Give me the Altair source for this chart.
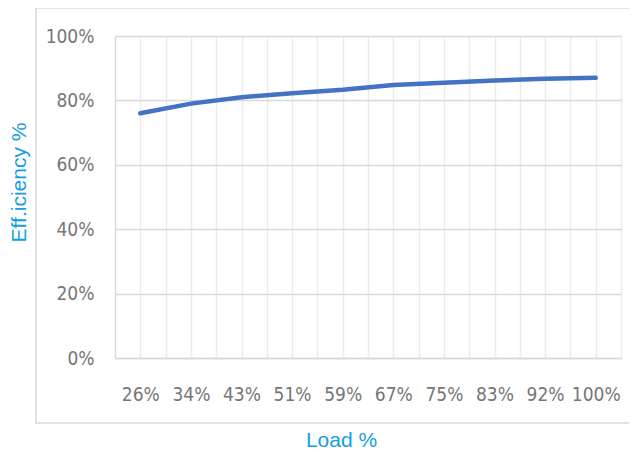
import altair as alt
import pandas as pd

categories = ["26%", "34%", "43%", "51%", "59%", "67%", "75%", "83%", "92%", "100%"]
efficiency = [0.76, 0.79, 0.81, 0.822, 0.833, 0.848, 0.855, 0.862, 0.867, 0.870]
y_ticks = [0, 0.2, 0.4, 0.6, 0.8, 1.0]

df = pd.DataFrame({
    "pos": [i + 0.5 for i in range(len(categories))],
    "load": categories,
    "eff": efficiency,
})

js_arr = "[" + ",".join("'" + c + "'" for c in categories) + "]"
label_expr = f"(datum.value % 1 == 0.5) ? {js_arr}[floor(datum.value)] : ''"

FONT = "DejaVu Sans Condensed, sans-serif"
TITLE_FONT = "Liberation Sans, Arial, sans-serif"
BLUE_T = "#12a0e0"
LABEL_C = "#767676"

border = alt.Chart(pd.DataFrame({"a": [0]})).mark_rect(
    fill=None, stroke="#d9d9d9", strokeWidth=1.5
).encode(
    x=alt.value(-79), x2=alt.value(540), y=alt.value(-28), y2=alt.value(387)
)

line = alt.Chart(df).mark_line(
    color="#4472C4", strokeWidth=4.5, strokeCap="round"
).encode(
    x=alt.X("pos:Q",
            scale=alt.Scale(domain=[0, len(categories)], nice=False, zero=False),
            axis=alt.Axis(
                values=[i * 0.5 for i in range(2 * len(categories) + 1)],
                labelExpr=label_expr,
                grid=True,
                gridColor={"condition": {"test": "datum.value == 0", "value": "#d9d9d9"}, "value": "#ececec"},
                gridWidth=1.5,
                ticks=False,
                domain=True,
                domainColor="#d9d9d9",
                domainWidth=1.5,
                labelFont=FONT,
                labelFontSize=19,
                labelColor=LABEL_C,
                labelPadding=27,
                labelBaseline="top",
                labelFlush=False,
                labelOverlap=False,
                labelBound=False,
                title="Load %",
                titleFont=TITLE_FONT,
                titleFontSize=21,
                titleFontWeight="normal",
                titleColor=BLUE_T,
                titleX=226,
                titleY=88,
                titleAlign="center",
                titleBaseline="alphabetic",
            )),
    y=alt.Y("eff:Q",
            scale=alt.Scale(domain=[0, 1], nice=False),
            axis=alt.Axis(
                values=y_ticks,
                format=".0%",
                grid=True,
                gridColor="#d9d9d9",
                gridWidth=1.5,
                ticks=False,
                domain=False,
                labelFont=FONT,
                labelFontSize=19,
                labelColor=LABEL_C,
                labelPadding=21,
                title="Eff.iciency %",
                titleFont=TITLE_FONT,
                titleFontSize=21,
                titleFontWeight="normal",
                titleColor=BLUE_T,
                titleX=-96,
                titleY=146,
                titleAlign="center",
                titleBaseline="middle",
            )),
)

chart = alt.layer(border, line).properties(
    width=506,
    height=322,
    autosize=alt.AutoSizeParams(type="none"),
    padding={"left": 107, "top": 28, "right": 8, "bottom": 90},
    background="white",
).configure_view(stroke=None)

chart.save("out.html", embed_options={"renderer": "svg", "actions": False})
